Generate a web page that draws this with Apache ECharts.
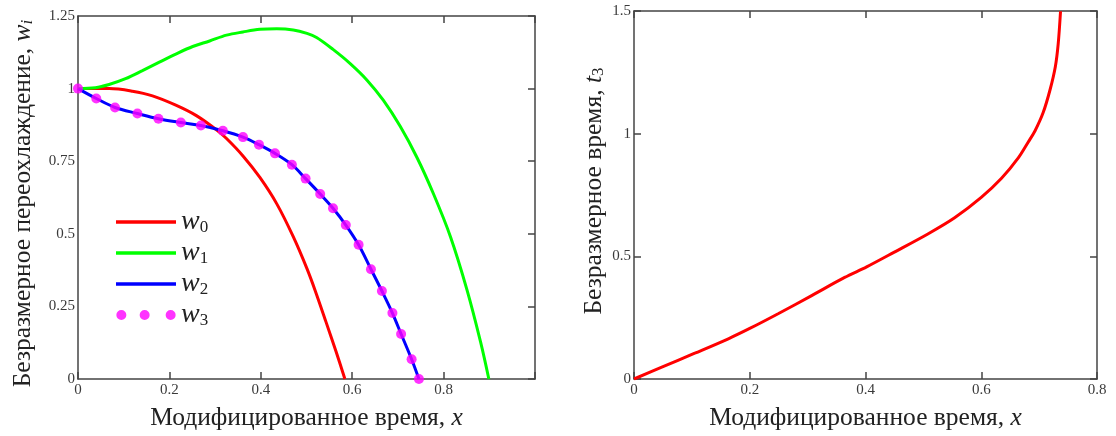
<!DOCTYPE html>
<html>
<head>
<meta charset="utf-8">
<script src="https://cdn.jsdelivr.net/npm/echarts@6/dist/echarts.min.js"></script>
<style>
  html, body { margin: 0; padding: 0; background: #fff; }
  #chart { width: 1116px; height: 436px; }
</style>
</head>
<body>
<div id="chart"></div>
<script>
// ---------- data ----------
const w0X = [0, 0.034, 0.068, 0.119, 0.163, 0.214, 0.259, 0.303, 0.325, 0.361, 0.398, 0.435, 0.471, 0.501, 0.520, 0.543, 0.565, 0.584];
const w0Y = [1, 1.0, 1.0, 0.991, 0.975, 0.943, 0.907, 0.858, 0.828, 0.768, 0.694, 0.603, 0.490, 0.380, 0.300, 0.195, 0.093, 0];

const w1X = [0, 0.038, 0.068, 0.104, 0.141, 0.178, 0.214, 0.251, 0.288, 0.325, 0.361, 0.398, 0.435, 0.471, 0.501, 0.522, 0.558, 0.595, 0.632, 0.668, 0.705, 0.742, 0.778, 0.815, 0.851, 0.881, 0.899];
const w1Y = [1, 1.003, 1.014, 1.034, 1.062, 1.091, 1.119, 1.145, 1.164, 1.184, 1.195, 1.204, 1.206, 1.202, 1.190, 1.176, 1.135, 1.087, 1.030, 0.960, 0.870, 0.762, 0.637, 0.490, 0.308, 0.127, 0];

const w2X = [0, 0.040, 0.081, 0.130, 0.176, 0.225, 0.269, 0.317, 0.361, 0.396, 0.431, 0.468, 0.498, 0.530, 0.558, 0.586, 0.614, 0.641, 0.665, 0.688, 0.707, 0.730, 0.746];
const w2Y = [1, 0.966, 0.935, 0.914, 0.896, 0.883, 0.873, 0.855, 0.833, 0.807, 0.777, 0.738, 0.690, 0.637, 0.588, 0.530, 0.462, 0.378, 0.303, 0.227, 0.155, 0.068, 0];

const w3X = [0, 0.040, 0.081, 0.130, 0.176, 0.225, 0.269, 0.317, 0.361, 0.396, 0.431, 0.468, 0.498, 0.530, 0.558, 0.586, 0.614, 0.641, 0.665, 0.688, 0.707, 0.730, 0.746];
const w3Y = [1, 0.966, 0.935, 0.914, 0.896, 0.883, 0.873, 0.855, 0.833, 0.807, 0.777, 0.738, 0.690, 0.637, 0.588, 0.530, 0.462, 0.378, 0.303, 0.227, 0.155, 0.068, 0];

const t3X = [0, 0.047, 0.105, 0.163, 0.200, 0.249, 0.307, 0.364, 0.402, 0.449, 0.507, 0.554, 0.600, 0.635, 0.664, 0.681, 0.693, 0.707, 0.719, 0.728, 0.733, 0.737];
const t3Y = [0, 0.047, 0.105, 0.164, 0.206, 0.266, 0.340, 0.414, 0.457, 0.516, 0.590, 0.657, 0.740, 0.818, 0.901, 0.965, 1.012, 1.086, 1.180, 1.273, 1.367, 1.499];

const seriesNames = ['w0', 'w1', 'w2', 'w3'];
const xTitle = 'Модифицированное время, ';
const yTitleLeft = 'Безразмерное переохлаждение, ';
const yTitleRight = 'Безразмерное время, ';

// ---------- helpers ----------
const zip = (xs, ys) => xs.map((x, i) => [x, ys[i]]);
const FONT = '"Liberation Serif", "Times New Roman", serif';
const AXIS_COLOR = '#444';
const TXT = '#222';
const LABEL = '#3a3a3a';

const titleRich = {
  n: { fontFamily: FONT, fontSize: 25.5, color: TXT, lineHeight: 30, verticalAlign: 'bottom' },
  i: { fontFamily: FONT, fontSize: 25.5, fontStyle: 'italic', color: TXT, lineHeight: 30, verticalAlign: 'bottom' },
  s: { fontFamily: FONT, fontSize: 17, color: TXT, lineHeight: 22, verticalAlign: 'bottom' },
  si: { fontFamily: FONT, fontSize: 17, fontStyle: 'italic', color: TXT, lineHeight: 22, verticalAlign: 'bottom' }
};

function xAxisPair(grid, min, max, interval, hideMax) {
  const common = {
    gridIndex: grid, type: 'value', min, max, interval,
    splitLine: { show: false },
    axisLine: { show: true, onZero: false, lineStyle: { color: AXIS_COLOR, width: 1.5 } },
    axisTick: { show: true, inside: true, length: 7, lineStyle: { color: AXIS_COLOR, width: 1.5 } }
  };
  return [
    Object.assign({}, common, {
      position: 'bottom',
      axisLabel: {
        fontFamily: FONT, fontSize: 15, color: LABEL, margin: 4,
        formatter: v => (hideMax && v >= max - 1e-9) ? '' : String(+v.toFixed(2))
      },
      name: '{n|' + xTitle + '}{i|x}',
      nameLocation: 'middle', nameGap: 22,
      nameTextStyle: { fontFamily: FONT, fontSize: 25.5, color: TXT, rich: titleRich }
    }),
    Object.assign({}, common, { position: 'top', axisLabel: { show: false } })
  ];
}

function yAxisPair(grid, min, max, interval, leftTicks, name, gap, pad) {
  const common = {
    gridIndex: grid, type: 'value', min, max, interval,
    splitLine: { show: false },
    axisLine: { show: true, onZero: false, lineStyle: { color: AXIS_COLOR, width: 1.5 } },
    axisTick: { show: true, inside: true, length: 7, lineStyle: { color: AXIS_COLOR, width: 1.5 } }
  };
  return [
    Object.assign({}, common, {
      position: 'left',
      axisTick: Object.assign({}, common.axisTick, { show: leftTicks }),
      axisLabel: {
        fontFamily: FONT, fontSize: 15, color: LABEL, margin: 3,
        formatter: v => String(+v.toFixed(2))
      },
      name, nameLocation: 'middle', nameGap: gap, nameRotate: 90,
      nameTextStyle: { fontFamily: FONT, fontSize: 25.5, color: TXT, rich: titleRich, padding: pad }
    }),
    Object.assign({}, common, { position: 'right', axisLabel: { show: false } })
  ];
}

const LINE_ICON = 'path://M0,0L60,0L60,3.5L0,3.5Z';
const DOTS_ICON = 'path://M0,5A5,5,0,1,1,10,5A5,5,0,1,1,0,5Z M23.3,5A5,5,0,1,1,33.3,5A5,5,0,1,1,23.3,5Z M49.3,5A5,5,0,1,1,59.3,5A5,5,0,1,1,49.3,5Z';

const option = {
  animation: false,
  backgroundColor: '#fff',
  grid: [
    { left: 78, top: 16, width: 457, height: 368 },
    { left: 634, top: 11, width: 463, height: 372 }
  ],
  xAxis: [].concat(
    xAxisPair(0, 0, 1, 0.2, true),
    xAxisPair(1, 0, 0.8, 0.2, false)
  ),
  yAxis: [].concat(
    yAxisPair(0, 0, 1.25, 0.25, false, '{n|' + yTitleLeft + '}{i|w}{si|i}', 42, [0, 12, 0, 0]),
    yAxisPair(1, 0, 1.5, 0.5, true, '{n|' + yTitleRight + '}{i|t}{s|3}', 27, [0, 0, 0, 8])
  ),
  legend: {
    orient: 'vertical', left: 111, top: 203,
    itemWidth: 60, itemHeight: 10, itemGap: 3,
    symbolKeepAspect: true,
    data: [
      { name: seriesNames[0], icon: LINE_ICON },
      { name: seriesNames[1], icon: LINE_ICON },
      { name: seriesNames[2], icon: LINE_ICON },
      { name: seriesNames[3], icon: DOTS_ICON }
    ],
    formatter: name => '{w|w}{d|' + name.slice(1) + '}',
    textStyle: {
      rich: {
        w: { fontFamily: FONT, fontStyle: 'italic', fontSize: 28, color: TXT, lineHeight: 28, verticalAlign: 'bottom' },
        d: { fontFamily: FONT, fontSize: 17, color: TXT, lineHeight: 20, verticalAlign: 'bottom' }
      }
    }
  },
  series: [
    { name: seriesNames[0], type: 'line', xAxisIndex: 0, yAxisIndex: 0, data: zip(w0X, w0Y),
      color: '#ff0000', showSymbol: false, smooth: 0.35, lineStyle: { width: 3 }, z: 3 },
    { name: seriesNames[1], type: 'line', xAxisIndex: 0, yAxisIndex: 0, data: zip(w1X, w1Y),
      color: '#00ff00', showSymbol: false, smooth: 0.35, lineStyle: { width: 3 }, z: 3 },
    { name: seriesNames[2], type: 'line', xAxisIndex: 0, yAxisIndex: 0, data: zip(w2X, w2Y),
      color: '#0000ff', showSymbol: false, smooth: 0.35, lineStyle: { width: 3 }, z: 4 },
    { name: seriesNames[3], type: 'scatter', xAxisIndex: 0, yAxisIndex: 0, data: zip(w3X, w3Y),
      color: '#ff00ff', symbol: 'circle', symbolSize: 10, z: 5 },
    { name: 't3', type: 'line', xAxisIndex: 2, yAxisIndex: 2, data: zip(t3X, t3Y),
      color: '#ff0000', showSymbol: false, smooth: 0.3, lineStyle: { width: 3 } }
  ]
};

const chart = echarts.init(document.getElementById('chart'), null, { renderer: 'canvas' });
chart.setOption(option);
</script>
</body>
</html>
